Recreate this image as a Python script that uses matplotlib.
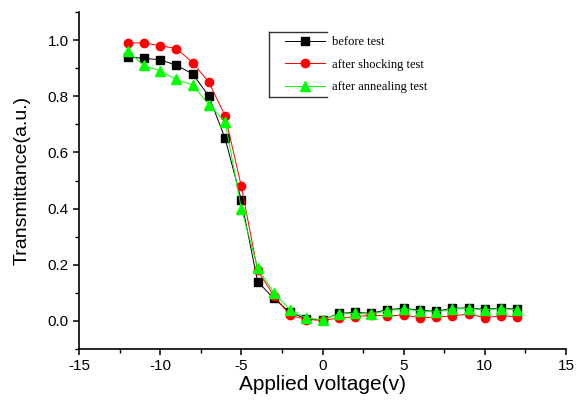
import matplotlib
matplotlib.use("Agg")
import matplotlib.pyplot as plt
from matplotlib.lines import Line2D
from matplotlib.ticker import MultipleLocator, FormatStrFormatter

voltage = list(range(-12, 13))

before_test = [0.94, 0.935, 0.93, 0.91, 0.88, 0.80, 0.65, 0.43, 0.14, 0.08, 0.03, 0.008, 0.003,
               0.027, 0.03, 0.027, 0.04, 0.045, 0.038, 0.034, 0.045, 0.046, 0.041, 0.046, 0.041]
after_shocking = [0.99, 0.99, 0.98, 0.97, 0.92, 0.85, 0.73, 0.48, 0.18, 0.09, 0.02, 0.005, 0.002,
                  0.01, 0.015, 0.02, 0.018, 0.021, 0.012, 0.013, 0.018, 0.024, 0.012, 0.018, 0.015]
after_annealing = [0.96, 0.91, 0.89, 0.86, 0.84, 0.77, 0.71, 0.40, 0.19, 0.10, 0.04, 0.01, 0.004,
                   0.025, 0.027, 0.024, 0.037, 0.042, 0.036, 0.031, 0.043, 0.044, 0.039, 0.044, 0.039]

labels = ["before test", "after shocking test", "after annealing test"]

plt.rcParams["font.family"] = ["Liberation Sans", "DejaVu Sans"]
plt.rcParams["axes.unicode_minus"] = False

fig = plt.figure(figsize=(5.77, 4.0), dpi=100)
ax = fig.add_axes([79 / 577, 1 - 349 / 400, (566 - 79) / 577, (349 - 12) / 400])

ax.plot(voltage, before_test, color="black", lw=0.7, marker="s", ms=5.5, label=labels[0])
ax.plot(voltage, after_shocking, color="red", lw=0.7, marker="o", ms=6, label=labels[1])
ax.plot(voltage, after_annealing, color="#00ff00", lw=0.7, marker="^", ms=6.5, label=labels[2])

ax.set_xlim(-15, 15)
ax.set_ylim(-0.1, 1.1)
ax.xaxis.set_major_locator(MultipleLocator(5))
ax.xaxis.set_minor_locator(MultipleLocator(2.5))
ax.set_yticks([0.0, 0.2, 0.4, 0.6, 0.8, 1.0])
ax.yaxis.set_minor_locator(MultipleLocator(0.1))
ax.yaxis.set_major_formatter(FormatStrFormatter("%.1f"))

for s in ["top", "right"]:
    ax.spines[s].set_visible(False)
for s in ["left", "bottom"]:
    ax.spines[s].set_linewidth(1.2)

ax.tick_params(which="major", length=4, width=1.1, labelsize=11, direction="out")
ax.tick_params(which="minor", length=3, width=1.0, direction="out")

ax.set_xlabel("Applied voltage(v)", fontsize=15, labelpad=1)
ax.set_ylabel("Transmittance(a.u.)", fontsize=14, labelpad=12)

leg = ax.legend(loc="upper left", bbox_to_anchor=(285 / 577, 1 - 36 / 400),
                bbox_transform=fig.transFigure, frameon=False, borderpad=0,
                prop={"family": "Liberation Serif", "size": 9},
                handlelength=3.2, handletextpad=0.6, labelspacing=0.85,
                borderaxespad=0, numpoints=1)

# Origin style legend box, open on the right
x0, x1 = 269 / 577, 327 / 577
y0, y1 = 1 - 31.7 / 400, 1 - 97.3 / 400
for xs, ys in [([x0, x0], [y0, y1]), ([x0, x1], [y0, y0]), ([x0, x1], [y1, y1])]:
    fig.add_artist(Line2D(xs, ys, color="#333333", lw=1.0, transform=fig.transFigure))

fig.savefig("out.png", dpi=100)
